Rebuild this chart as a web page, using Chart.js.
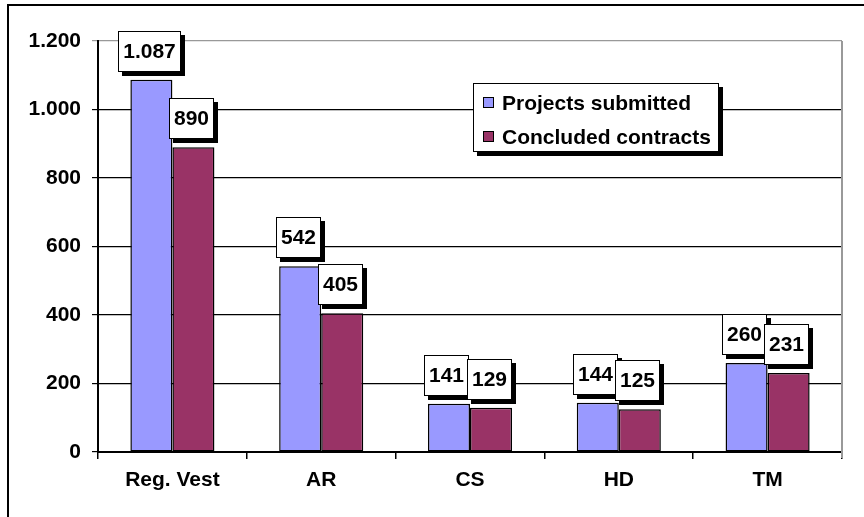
<!DOCTYPE html>
<html>
<head>
<meta charset="utf-8">
<script src="https://cdn.jsdelivr.net/npm/chart.js@4"></script>
<style>
  html, body { margin: 0; padding: 0; background: #fff; }
  canvas { display: block; }
</style>
</head>
<body>
<canvas id="chart" width="864" height="517"></canvas>
<script>
// ── Data ─────────────────────────────────────────────
const categories = ['Reg. Vest', 'AR', 'CS', 'HD', 'TM'];
const projectsSubmitted = [1087, 542, 141, 144, 260];
const concludedContracts = [890, 405, 129, 125, 231];
const seriesLabels = ['Projects submitted', 'Concluded contracts'];
const yMin = 0;
const yMax = 1200;
const yStep = 200;

const FONT = '"Liberation Sans", Arial, sans-serif';
const BLUE = '#9999ff';
const PLUM = '#993366';

// 1087 -> "1.087"
function fmt(v) {
  return String(v).replace(/\B(?=(\d{3})+(?!\d))/g, '.');
}

// Outer frame + gray plot border
const framePlugin = {
  id: 'frame',
  beforeDraw(chart) {
    const ctx = chart.ctx;
    ctx.save();
    ctx.fillStyle = '#fff';
    ctx.fillRect(0, 0, chart.width, chart.height);
    ctx.fillStyle = '#000';
    ctx.fillRect(7, 4, chart.width - 7, 2);
    ctx.fillRect(7, 4, 2, chart.height - 4);
    ctx.restore();
  },
  beforeDatasetsDraw(chart) {
    const { ctx, chartArea } = chart;
    ctx.save();
    ctx.strokeStyle = '#999';
    ctx.lineWidth = 2;
    ctx.beginPath();
    ctx.moveTo(chartArea.right, chartArea.top);
    ctx.lineTo(chartArea.right, chartArea.bottom + 6);
    ctx.stroke();
    ctx.restore();
  },
};

// Value boxes with drop shadow above each bar
const valueBoxPlugin = {
  id: 'valueBoxes',
  afterDatasetsDraw(chart) {
    const ctx = chart.ctx;
    ctx.save();
    ctx.font = 'bold 21px ' + FONT;
    chart.data.datasets.forEach((ds, di) => {
      const meta = chart.getDatasetMeta(di);
      meta.data.forEach((bar, i) => {
        const text = fmt(ds.data[i]);
        const tw = ctx.measureText(text).width;
        const w = Math.round(tw + 10);
        const h = 41;
        const x = Math.round(bar.x - 2 - w / 2);
        const y = Math.round(bar.y - 8 - h);
        ctx.fillStyle = '#000';
        ctx.fillRect(x + 4, y + 4, w, h);
        ctx.fillStyle = '#fff';
        ctx.fillRect(x, y, w, h);
        ctx.strokeStyle = '#000';
        ctx.lineWidth = 1;
        ctx.strokeRect(x + 0.5, y + 0.5, w - 1, h - 1);
        ctx.fillStyle = '#000';
        ctx.textAlign = 'center';
        ctx.textBaseline = 'middle';
        ctx.fillText(text, x + w / 2, y + h / 2 + 1);
      });
    });
    ctx.restore();
  },
};

// Boxed legend with shadow
const legendBoxPlugin = {
  id: 'legendBox',
  afterDraw(chart) {
    const ctx = chart.ctx;
    const x = 473, y = 83, w = 246, h = 69;
    ctx.save();
    ctx.fillStyle = '#000';
    ctx.fillRect(x + 4, y + 4, w, h);
    ctx.fillStyle = '#fff';
    ctx.fillRect(x, y, w, h);
    ctx.strokeStyle = '#000';
    ctx.lineWidth = 1;
    ctx.strokeRect(x + 0.5, y + 0.5, w - 1, h - 1);
    ctx.font = 'bold 21px ' + FONT;
    ctx.textAlign = 'left';
    ctx.textBaseline = 'middle';
    chart.data.datasets.forEach((ds, i) => {
      const cy = y + 20 + i * 34;
      ctx.fillStyle = ds.backgroundColor;
      ctx.fillRect(x + 10, cy - 6, 11, 11);
      ctx.strokeStyle = '#000';
      ctx.strokeRect(x + 10.5, cy - 5.5, 10, 10);
      ctx.fillStyle = '#000';
      ctx.fillText(ds.label, x + 29, cy + 1);
    });
    ctx.restore();
  },
};

const ctx = document.getElementById('chart').getContext('2d');
new Chart(ctx, {
  type: 'bar',
  data: {
    labels: categories,
    datasets: [
      {
        label: seriesLabels[0],
        data: projectsSubmitted,
        backgroundColor: BLUE,
        borderColor: '#000',
        borderWidth: 1.5,
        borderSkipped: false,
      },
      {
        label: seriesLabels[1],
        data: concludedContracts,
        backgroundColor: PLUM,
        borderColor: '#000',
        borderWidth: 1.5,
        borderSkipped: false,
      },
    ],
  },
  options: {
    responsive: false,
    animation: false,
    layout: { padding: { top: 41, right: 22, left: 0, bottom: 0 } },
    datasets: {
      bar: { barPercentage: 1, categoryPercentage: 0.565 },
    },
    scales: {
      x: {
        afterFit: (scale) => { scale.height = 65; },
        grid: {
          drawOnChartArea: false,
          drawTicks: true,
          tickLength: 7,
          color: '#000',
          lineWidth: 1.5,
        },
        border: { color: '#000', width: 2 },
        ticks: {
          color: '#000',
          padding: 9,
          font: { family: FONT, size: 21, weight: 'bold' },
        },
      },
      y: {
        min: yMin,
        max: yMax,
        afterFit: (scale) => { scale.width = 98; },
        grid: {
          color: (c) => (c.tick && c.tick.value === yMax ? '#999' : '#000'),
          lineWidth: 1.2,
          tickLength: 6,
        },
        border: { color: '#000', width: 2 },
        ticks: {
          stepSize: yStep,
          color: '#000',
          padding: 11,
          font: { family: FONT, size: 21, weight: 'bold' },
          callback: (v) => fmt(v),
        },
      },
    },
    plugins: {
      legend: { display: false },
      tooltip: { enabled: false },
    },
  },
  plugins: [framePlugin, valueBoxPlugin, legendBoxPlugin],
});
</script>
</body>
</html>
